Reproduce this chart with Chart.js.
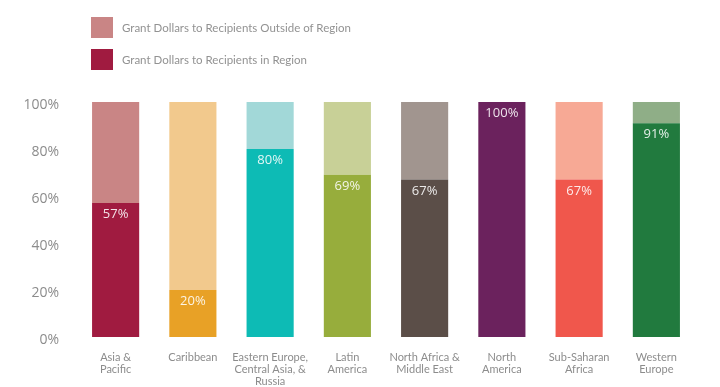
<!DOCTYPE html>
<html>
<head>
<meta charset="utf-8">
<script src="https://cdn.jsdelivr.net/npm/chart.js@4/dist/chart.umd.min.js"></script>
<style>
  html, body { margin: 0; padding: 0; background: #fff; }
  #wrap { position: relative; width: 720px; height: 387px; }
  #legend { position: absolute; left: 91px; top: 17px; font-family: Lato, "Open Sans", sans-serif; font-size: 11.5px; color: #929292; }
  .li { display: flex; align-items: center; height: 21px; margin-bottom: 11px; }
  .sw { width: 22px; height: 21px; margin-right: 9px; }
</style>
</head>
<body>
<div id="wrap">
  <canvas id="c" width="720" height="387"></canvas>
  <div id="legend"></div>
</div>
<script>
const categories = [
  ["Asia &", "Pacific"],
  ["Caribbean"],
  ["Eastern Europe,", "Central Asia, &", "Russia"],
  ["Latin", "America"],
  ["North Africa &", "Middle East"],
  ["North", "America"],
  ["Sub-Saharan", "Africa"],
  ["Western", "Europe"]
];
const inRegion = [57, 20, 80, 69, 67, 100, 67, 91];
const outsideRegion = [43, 80, 20, 31, 33, 0, 33, 9];
const yTicks = [0, 20, 40, 60, 80, 100];
const seriesNames = ["Grant Dollars to Recipients Outside of Region", "Grant Dollars to Recipients in Region"];
const darkColors = ["#A01B40", "#E8A126", "#0DBBB5", "#97AD3C", "#5B4E48", "#6B225D", "#F0574C", "#217A3E"];
const lightColors = ["#C98585", "#F2C98D", "#A2D8D8", "#C8D097", "#A1958F", "#C9A9C3", "#F7A995", "#8FAE87"];

// HTML legend
const legendEl = document.getElementById('legend');
[[seriesNames[0], "#C98585"], [seriesNames[1], "#A01B40"]].forEach(([t, col]) => {
  const d = document.createElement('div'); d.className = 'li';
  const s = document.createElement('div'); s.className = 'sw'; s.style.background = col;
  const tx = document.createElement('span'); tx.textContent = t;
  d.appendChild(s); d.appendChild(tx); legendEl.appendChild(d);
});

const labelPlugin = {
  id: 'valLabels',
  afterDatasetsDraw(chart) {
    const ctx = chart.ctx;
    const meta = chart.getDatasetMeta(0);
    ctx.save();
    ctx.font = '13px "Open Sans", sans-serif';
    ctx.fillStyle = 'rgba(255,255,255,0.88)';
    ctx.textAlign = 'center';
    ctx.textBaseline = 'top';
    meta.data.forEach((bar, i) => {
      ctx.fillText(inRegion[i] + '%', bar.x, bar.y + 5);
    });
    ctx.restore();
  }
};

new Chart(document.getElementById('c'), {
  type: 'bar',
  data: {
    labels: categories,
    datasets: [
      { label: seriesNames[1], data: inRegion, backgroundColor: darkColors, borderWidth: 0 },
      { label: seriesNames[0], data: outsideRegion, backgroundColor: lightColors, borderWidth: 0 }
    ]
  },
  options: {
    responsive: false,
    animation: false,
    layout: { padding: { top: 102, right: 25, bottom: 0, left: 0 } },
    datasets: { bar: { categoryPercentage: 1.0, barPercentage: 0.61 } },
    plugins: { legend: { display: false }, tooltip: { enabled: false } },
    scales: {
      x: {
        stacked: true,
        grid: { display: false },
        border: { display: false },
        ticks: { color: '#8c8c8c', font: { family: 'Lato, "Open Sans", sans-serif', size: 11, lineHeight: 1.1 }, padding: 6, maxRotation: 0, autoSkip: false },
        afterFit(s) { s.height = 50; }
      },
      y: {
        stacked: true,
        min: 0, max: 100,
        grid: { display: false },
        border: { display: false },
        afterBuildTicks(s) { s.ticks = yTicks.map(v => ({ value: v })); },
        ticks: { color: '#8c8c8c', font: { family: '"Open Sans", sans-serif', size: 14 }, padding: 10, labelOffset: 3, callback: v => v + '%' },
        afterFit(s) { s.width = 77; }
      }
    }
  },
  plugins: [labelPlugin]
});
</script>
</body>
</html>
